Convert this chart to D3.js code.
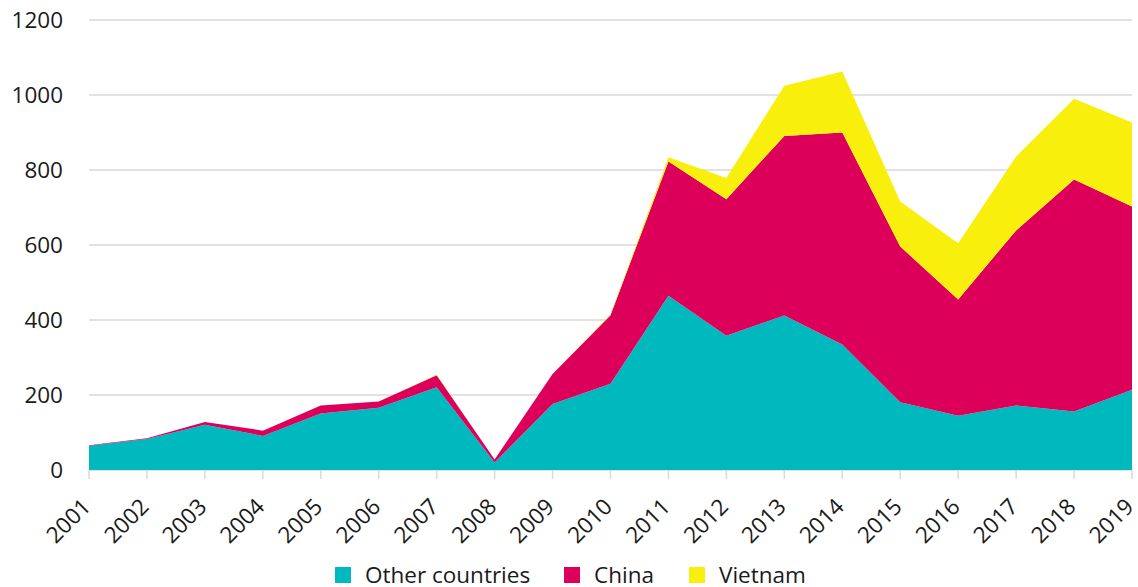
<!DOCTYPE html>
<html>
<head>
<meta charset="utf-8">
<script src="https://cdn.jsdelivr.net/npm/d3@7"></script>
<style>
  body { margin: 0; background: #fff; }
  svg { display: block; font-family: "Open Sans", "Noto Sans", sans-serif; }
</style>
</head>
<body>
<script>
// data
const years = [2001, 2002, 2003, 2004, 2005, 2006, 2007, 2008, 2009, 2010,
               2011, 2012, 2013, 2014, 2015, 2016, 2017, 2018, 2019];
const otherCountries = [65, 83, 121, 91, 151, 166, 221, 20, 176, 230, 465, 358, 412, 335, 181, 145, 172, 156, 214];
const china          = [1, 2, 7, 14, 21, 17, 32, 8, 80, 183, 358, 364, 479, 565, 415, 310, 467, 619, 489];
const vietnam        = [0, 0, 0, 0, 0, 0, 1, 0, 0, 2, 11, 57, 134, 163, 120, 150, 197, 215, 224];
const seriesNames = ["Other countries", "China", "Vietnam"];
const colors = ["#00b9be", "#dd005a", "#f9ef0c"];
const yTicks = [0, 200, 400, 600, 800, 1000, 1200];

const width = 1138, height = 587;
const margin = {top: 20, right: 6, bottom: 117, left: 89};

const rows = years.map((y, i) => ({
  year: y,
  "Other countries": otherCountries[i],
  "China": china[i],
  "Vietnam": vietnam[i]
}));

const stack = d3.stack().keys(seriesNames)(rows);

const x = d3.scaleLinear()
  .domain([years[0], years[years.length - 1]])
  .range([margin.left, width - margin.right]);

const y = d3.scaleLinear()
  .domain([0, 1200])
  .range([height - margin.bottom, margin.top]);

const svg = d3.select("body").append("svg")
  .attr("width", width)
  .attr("height", height);

// gridlines
svg.append("g")
  .selectAll("line")
  .data(yTicks)
  .join("line")
    .attr("x1", margin.left)
    .attr("x2", width - margin.right)
    .attr("y1", d => y(d))
    .attr("y2", d => y(d))
    .attr("stroke", "#d9d9d9")
    .attr("stroke-width", 1.5);

// y labels
svg.append("g")
  .selectAll("text")
  .data(yTicks)
  .join("text")
    .attr("x", 63)
    .attr("y", d => y(d))
    .attr("dy", "0.35em")
    .attr("text-anchor", "end")
    .attr("font-size", 22.5)
    .attr("fill", "#1a1a1a")
    .text(d => d);

const area = d3.area()
  .x(d => x(d.data.year))
  .y0(d => y(d[0]))
  .y1(d => y(d[1]));

svg.append("g")
  .selectAll("path")
  .data(stack)
  .join("path")
    .attr("fill", (d, i) => colors[i])
    .attr("d", area);

// x axis ticks
const xAxis = svg.append("g");
xAxis.selectAll("line")
  .data(years)
  .join("line")
    .attr("x1", d => x(d))
    .attr("x2", d => x(d))
    .attr("y1", y(0))
    .attr("y2", y(0) + 9)
    .attr("stroke", "#d9d9d9")
    .attr("stroke-width", 1.5);

xAxis.selectAll("text")
  .data(years)
  .join("text")
    .attr("transform", d => `translate(${x(d) - 8},${y(0) + 27}) rotate(-45)`)
    .attr("text-anchor", "end")
    .attr("dy", "0.7em")
    .attr("font-size", 22.5)
    .attr("fill", "#1a1a1a")
    .text(d => d);

// legend
const legendX = [335, 564, 689];
const legend = svg.append("g");
seriesNames.forEach((name, i) => {
  legend.append("rect")
    .attr("x", legendX[i])
    .attr("y", 567)
    .attr("width", 16)
    .attr("height", 16)
    .attr("fill", colors[i]);
  legend.append("text")
    .attr("x", legendX[i] + 30)
    .attr("y", 583)
    .attr("font-size", 22.5)
    .attr("fill", "#1a1a1a")
    .text(name);
});
</script>
</body>
</html>
